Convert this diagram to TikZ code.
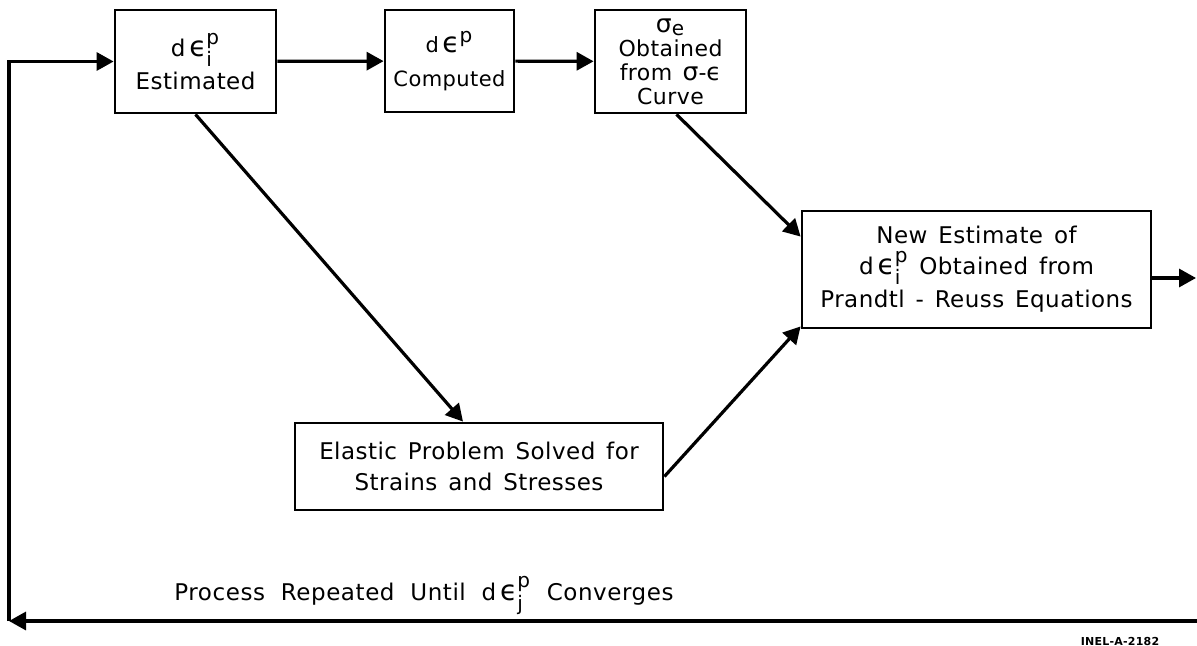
\documentclass[tikz,border=0pt]{standalone}
\usepackage{fontspec}
\setmainfont{DejaVu Sans}[LetterSpace=2.0,WordSpace=1.4]
\newfontfamily\widesp{DejaVu Sans}[LetterSpace=2.5,WordSpace=2.0]
\usetikzlibrary{arrows.meta,calc}
\newcommand{\bigeps}{\mbox{\fontsize{14}{14}\selectfont ϵ}}
\newcommand{\bigsig}{\mbox{\fontsize{14}{14}\selectfont σ}}
\newcommand{\medeps}{\mbox{\fontsize{12}{12}\selectfont ϵ}}
\newcommand{\medsig}{\mbox{\fontsize{12.5}{12}\selectfont σ}}
\newcommand{\scr}[1]{\mbox{\fontsize{10}{10}\selectfont #1}}
\newcommand{\depsij}[2]{d\,$\bigeps^{\scr{#1}}_{\scr{#2}}$}
\newcommand{\depsp}{d\,$\bigeps^{\scr{p}}$}
\begin{document}
\begin{tikzpicture}[x=0.5pt,y=-0.5pt,
  box/.style={draw, line width=1.4pt, inner sep=0pt, align=center,
    font=\fontsize{11.5}{15.5}\selectfont},
  conn/.style={line width=1.6pt, -{Triangle[length=8.5pt,width=9pt]}}]
\useasboundingbox (0,0) rectangle (1197,646);

\node[box, minimum width=80.5pt, minimum height=51.5pt] (b1) at (195.5,61.5)
  {\depsij{p}{i}\\[1pt]Estimated};
\node[box, minimum width=64.5pt, minimum height=51pt,
  font=\fontsize{10.5}{15}\selectfont] (b2) at (449.5,61)
  {\depsp\\[2pt]Computed};
\node[box, minimum width=75.5pt, minimum height=51.5pt,
  font=\fontsize{11}{12}\selectfont] (b3) at (670.5,61.5)
  {$\medsig_{\scr{e}}$\\Obtained\\from $\medsig$-$\medeps$\\Curve};
\node[box, minimum width=174.5pt, minimum height=58.5pt,
  font=\fontsize{11.5}{15.5}\selectfont] (b4) at (976.5,269.5)
  {New Estimate of\\\depsij{p}{i} Obtained from\\[1pt]Prandtl - Reuss Equations};
\node[box, minimum width=184pt, minimum height=43.5pt] (b5) at (479,466.5)
  {Elastic Problem Solved for\\Strains and Stresses};

\node[anchor=base, inner sep=0pt, font=\widesp\fontsize{11.5}{14}\selectfont] (lbl) at (424,600)
  {Process Repeated Until \depsij{p}{j} Converges};
\node[inner sep=0pt, font=\fontsize{5.5}{6}\selectfont\bfseries] (tag) at (1120,641)
  {INEL-A-2182};

\coordinate (R) at (1197,621);
\coordinate (C) at (9,621);
\coordinate (out) at (1196,278);

\draw[conn] (R) -- (C);
\draw[conn] (C) |- (b1.west);
\draw[conn] (b1) -- (b2);
\draw[conn] (b2) -- (b3);
\draw[conn] (b1.south) -- ([xshift=-8pt]b5.north);
\draw[conn] ([xshift=3pt]b3.south) -- ([yshift=-13.5pt]b4.north west);
\draw[conn] ([yshift=-5pt]b5.east) -- ([yshift=1.5pt]b4.south west);
\draw[conn] ([yshift=-4.25pt]b4.east) -- (out);
\end{tikzpicture}
\end{document}
